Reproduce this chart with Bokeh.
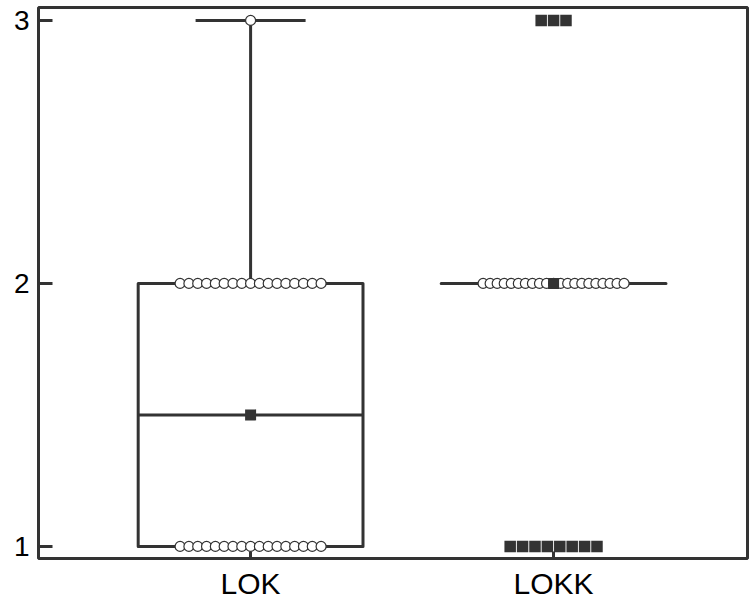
import numpy as np
from bokeh.plotting import figure
from bokeh.models import Range1d, FixedTicker
from bokeh.embed import file_html
from bokeh.resources import INLINE

# ---- data ----
categories = ["LOK", "LOKK"]
cat_pos = [1, 2]
levels = [1, 2, 3]
lok_counts = [17, 17, 1]      # how many observations at 1, 2, 3
lokk_counts = [8, 21, 3]
q1 = [1.0, 2.0]
median = [1.5, 2.0]
q3 = [2.0, 2.0]
mean = [1.5, 2.0]
whisker_low = [1.0, 2.0]
whisker_high = [3.0, 2.0]
y_ticks = [1, 2, 3]

counts = [lok_counts, lokk_counts]

# ---- styling ----
INK = "#333333"
FONT = "Liberation Sans"
X0, X1 = 0.30, 2.64
Y0, Y1 = 0.954, 3.049
FRAME_W, FRAME_H = 709, 551
UNIT_PER_PX = (X1 - X0) / FRAME_W
BOX_W = 0.742
CAP_W = 0.363
DOT_STEP_PX = 9.0
DOT_MAX_PX = 141.0
OUT_STEP_PX = 12.4

p = figure(frame_width=FRAME_W, frame_height=FRAME_H,
           x_range=Range1d(X0, X1), y_range=Range1d(Y0, Y1),
           output_backend="svg", toolbar_location=None,
           min_border_left=38, min_border_right=3,
           min_border_top=7, min_border_bottom=40)
p.grid.visible = False
p.outline_line_color = INK
p.outline_line_width = 3
p.outline_line_alpha = 1.0

# axes
p.xaxis.ticker = FixedTicker(ticks=cat_pos)
p.xaxis.major_label_overrides = {c: n for c, n in zip(cat_pos, categories)}
p.yaxis.ticker = FixedTicker(ticks=y_ticks)
for ax in (p.xaxis[0], p.yaxis[0]):
    ax.axis_line_color = None
    ax.minor_tick_line_color = None
    ax.major_tick_out = 0
    ax.major_tick_line_color = INK
    ax.major_tick_line_width = 3
    ax.major_label_text_font = FONT
    ax.major_label_text_color = "black"
p.yaxis.major_tick_in = 14
p.yaxis.major_label_text_font_size = "28px"
p.yaxis.major_label_standoff = 9
p.xaxis.major_tick_in = 7
p.xaxis.major_label_text_font_size = "30px"
p.xaxis.major_label_standoff = 8

# boxes
lefts = [c - BOX_W / 2 for c in cat_pos]
rights = [c + BOX_W / 2 for c in cat_pos]
p.quad(left=lefts, right=rights, bottom=q1, top=q3, fill_color=None,
       line_color=INK, line_width=3, line_join="round")
p.segment(x0=lefts, x1=rights, y0=median, y1=median, line_color=INK, line_width=3)
# whiskers
p.segment(x0=cat_pos, x1=cat_pos, y0=q3, y1=whisker_high, line_color=INK, line_width=3)
p.segment(x0=cat_pos, x1=cat_pos, y0=q1, y1=whisker_low, line_color=INK, line_width=3)
p.segment(x0=[c - CAP_W / 2 for c in cat_pos], x1=[c + CAP_W / 2 for c in cat_pos],
          y0=whisker_high, y1=whisker_high, line_color=INK, line_width=3)

# dots
dot_x, dot_y, out_x, out_y = [], [], [], []
for i, c in enumerate(cat_pos):
    for lev, n in zip(levels, counts[i]):
        if n == 0:
            continue
        inside = whisker_low[i] <= lev <= whisker_high[i]
        if inside:
            span = min((n - 1) * DOT_STEP_PX, DOT_MAX_PX) * UNIT_PER_PX
        else:
            span = (n - 1) * OUT_STEP_PX * UNIT_PER_PX
        xs = np.linspace(c - span / 2, c + span / 2, n) if n > 1 else np.array([c])
        if inside:
            dot_x += list(xs); dot_y += [lev] * n
        else:
            out_x += list(xs); out_y += [lev] * n

p.scatter(dot_x, dot_y, marker="circle", size=10, fill_color="white",
          line_color=INK, line_width=1.2)
p.scatter(out_x, out_y, marker="square", size=11.5, fill_color=INK, line_color=None)
p.scatter(cat_pos, mean, marker="square", size=11, fill_color=INK, line_color=None)

open("out.html", "w").write(file_html(p, INLINE))
